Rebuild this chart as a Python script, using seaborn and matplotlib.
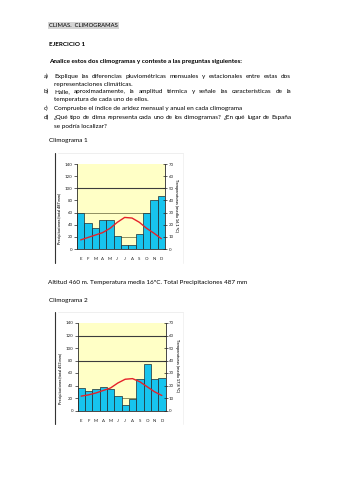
import numpy as np
import matplotlib
matplotlib.use("Agg")
import matplotlib.pyplot as plt
from matplotlib.lines import Line2D
import seaborn as sns

# ---- datos ----
meses = ["E", "F", "M", "A", "M", "J", "J", "A", "S", "O", "N", "D"]
prec_1 = [60, 43, 35, 48, 47, 22, 7, 6, 24, 59, 80, 87]
temp_1 = [7.5, 9.5, 11.5, 13.5, 17, 22, 26, 25.5, 22, 17, 13, 8.5]
prec_2 = [36, 31, 35, 37, 34, 23, 9, 19, 51, 75, 51, 52]
temp_2 = [11.5, 12.5, 14, 16, 18, 22, 25, 25.5, 23, 19, 15, 12]
ticks_prec = [0, 20, 40, 60, 80, 100, 120, 140]
ticks_temp = [0, 10, 20, 30, 40, 50, 60, 70]

sns.set_style("white")
plt.rcParams["font.family"] = ["Lato", "DejaVu Sans"]

W, H = 339, 480
fig = plt.figure(figsize=(W / 100, H / 100), dpi=100)
fig.patch.set_facecolor("white")
renderer = fig.canvas.get_renderer()
INK = "#000000"


def fx(x):
    return x / W


def fy(y):
    return 1 - y / H


def text_width(s, size, weight="normal"):
    t = fig.text(0, 0, s, fontsize=size, fontweight=weight)
    w = t.get_window_extent(renderer).width
    t.remove()
    return w


def fit_size(s, target, weight="normal"):
    return 10 * target / text_width(s, 10, weight)


def line(x, y, s, size, weight="normal", **kw):
    # y is the visual middle of the line; text sits on a common baseline
    return fig.text(fx(x), fy(y + 1.9), s, fontsize=size, fontweight=weight,
                    va="baseline", ha="left", color=INK, **kw)


def justified(x0, x1, y, s, size, weight="normal"):
    words = s.split()
    arts = [line(0, y, w, size, weight) for w in words]
    widths = [a.get_window_extent(renderer).width for a in arts]
    gap = (x1 - x0 - sum(widths)) / (len(words) - 1)
    x = x0
    for a, w in zip(arts, widths):
        a.set_x(fx(x))
        x += w + gap


BODY = fit_size("Compruebe el índice de aridez mensual y anual en cada climograma", 189)
BOLD = fit_size("Analice estos dos climogramas y conteste a las preguntas siguientes:", 194, "bold")

# ---- texto del enunciado ----
line(49, 25, "CLIMAS.  CLIMOGRAMAS", BODY * 0.92,
     bbox=dict(facecolor="#d4d4d4", edgecolor="none", pad=0.8))
line(49, 44.5, "EJERCICIO 1", BOLD, "bold")
line(49, 61, "Analice estos dos climogramas y conteste a las preguntas siguientes:", BOLD, "bold")

line(44, 76, "a)", BODY)
justified(54, 291, 76, "Explique las diferencias pluviométricas mensuales y estacionales entre estas dos", BODY)
line(54, 84, "representaciones climáticas.", BODY)
line(44, 91.5, "b)", BODY)
justified(54, 291, 91.5, "Halle, aproximadamente, la amplitud térmica y señale las características de la", BODY)
line(54, 99.5, "temperatura de cada uno de ellos.", BODY)
line(44, 108.5, "c)", BODY)
line(54, 108.5, "Compruebe el índice de aridez mensual y anual en cada climograma", BODY)
line(44, 117.5, "d)", BODY)
justified(54, 291, 117.5, "¿Qué tipo de clima representa cada uno de los climogramas? ¿En qué lugar de España", BODY)
line(54, 126, "se podría localizar?", BODY)

line(49, 140.5, "Climograma 1", BODY)
line(48, 282, "Altitud 460 m. Temperatura media 16ºC. Total Precipitaciones 487 mm", BODY)
line(49, 300, "Climograma 2", BODY)

BLUE = "#17C4EE"
YELLOW = "#FFFFC6"
RED = "#E5222A"
DARK = "#2a2a2a"


def climograma(box, prec, temp, etiqueta_p, etiqueta_t, dark_lines, light_lines, frame):
    left, right, top, bottom = box
    ax = fig.add_axes([fx(left), fy(bottom), (right - left) / W, (bottom - top) / H])
    ax.set_facecolor(YELLOW)
    for v in light_lines:
        ax.axhline(v, color="#8f8f60", lw=0.7, zorder=0.5)
    for v in dark_lines:
        ax.axhline(v, color="#3c3c3c", lw=0.8, zorder=0.5)
    sns.barplot(x=np.arange(12), y=prec, width=1.0, color=BLUE, saturation=1,
                edgecolor="#1e2a30", linewidth=0.5, ax=ax, zorder=2)
    ax.set_ylim(0, 140)
    ax.set_yticks(ticks_prec)
    ax.set_yticklabels([str(t) for t in ticks_prec])
    ax.set_xticks(np.arange(12))
    ax.set_xticklabels(meses)
    ax.set_xticks(np.arange(-0.5, 12, 1), minor=True)
    ax.tick_params(axis="x", which="major", length=0, pad=6.0, labelsize=3.2, colors="#222222")
    ax.tick_params(axis="x", which="minor", length=2.0, width=0.5, color=DARK)
    ax.tick_params(axis="y", which="major", length=2.2, width=0.5, pad=1.0,
                   labelsize=3.2, colors="#222222", direction="out")
    ax.set_xlabel("")
    ax.set_ylabel(etiqueta_p, fontsize=2.7, fontweight="bold", color="#222222")
    ax.yaxis.set_label_coords(-0.17, 0.36)
    for side in ["top", "right"]:
        ax.spines[side].set_visible(False)
    for side in ["left", "bottom"]:
        ax.spines[side].set_color(DARK)
        ax.spines[side].set_linewidth(0.6)

    ax2 = ax.twinx()
    sns.lineplot(x=np.arange(12), y=temp, color=RED, lw=1.0, ax=ax2, zorder=4)
    ax2.set_ylim(0, 70)
    ax2.set_yticks(ticks_temp)
    ax2.set_yticklabels([str(t) for t in ticks_temp])
    ax2.tick_params(axis="y", length=3.0, width=0.5, pad=1.0, labelsize=3.2,
                    colors="#222222", direction="inout")
    ax2.set_ylabel(etiqueta_t, fontsize=2.9, fontweight="bold", color="#222222",
                   rotation=270)
    ax2.yaxis.set_label_coords(1.15, 0.51)
    for side in ["top", "left", "bottom"]:
        ax2.spines[side].set_visible(False)
    ax2.spines["right"].set_color(DARK)
    ax2.spines["right"].set_linewidth(0.6)
    ax.set_xlim(-0.5, 11.5)

    # marco de la imagen
    ftop, fbot, fright = frame
    fig.add_artist(Line2D([fx(55), fx(55)], [fy(ftop), fy(fbot)], color="#333333", lw=0.8))
    fig.add_artist(Line2D([fx(58), fx(fright)], [fy(ftop), fy(ftop)], color="#ececec", lw=0.6))
    fig.add_artist(Line2D([fx(fright), fx(fright)], [fy(ftop), fy(fbot)], color="#f0f0f0", lw=0.6))
    return ax


climograma((77, 165, 164, 249), prec_1, temp_1,
           "Precipitaciones (total 487 mm)", "Temperaturas (media 16,1 ºC)",
           [100], [60, 20], (153, 263, 183))
climograma((77.5, 165.5, 323, 410.5), prec_2, temp_2,
           "Precipitaciones (total 453 mm)", "Temperaturas (media 17,8 ºC)",
           [120, 80], [20], (312, 424, 183))

fig.savefig("out.png", dpi=100, facecolor="white")
